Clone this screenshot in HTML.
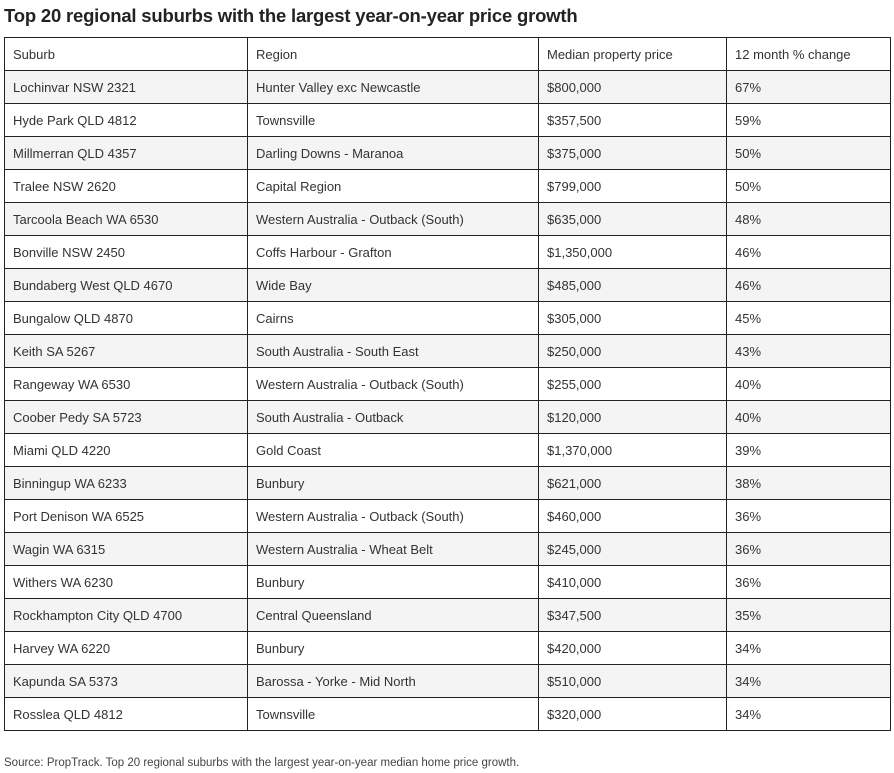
<!DOCTYPE html>
<html><head><meta charset="utf-8"><style>
body{margin:0;width:894px;height:773px;background:#fff;font-family:"Liberation Sans",sans-serif;color:#333;position:relative;overflow:hidden}
h1{position:absolute;left:4px;top:5px;margin:0;font-size:18.5px;font-weight:bold;color:#222;letter-spacing:-0.2px}
table{position:absolute;left:4px;top:37px;border-collapse:collapse;width:886px;table-layout:fixed}
td{border:1px solid #222;height:32px;padding:0 0 0 8px;font-size:13px;white-space:nowrap;overflow:hidden}
tr:nth-child(even) td{background:#f4f4f4}
.src{position:absolute;left:4px;top:757px;font-size:11.5px;color:#444}
</style></head><body>
<h1>Top 20 regional suburbs with the largest year-on-year price growth</h1>
<table>
<colgroup><col style="width:243px"><col style="width:291px"><col style="width:188px"><col style="width:164px"></colgroup>
<tbody id="tb">
<tr><td>Suburb</td><td>Region</td><td>Median property price</td><td>12 month % change</td></tr>
</tbody></table>
<div class="src">Source: PropTrack. Top 20 regional suburbs with the largest year-on-year median home price growth.</div>
<script>
const suburbs=["Lochinvar NSW 2321","Hyde Park QLD 4812","Millmerran QLD 4357","Tralee NSW 2620","Tarcoola Beach WA 6530","Bonville NSW 2450","Bundaberg West QLD 4670","Bungalow QLD 4870","Keith SA 5267","Rangeway WA 6530","Coober Pedy SA 5723","Miami QLD 4220","Binningup WA 6233","Port Denison WA 6525","Wagin WA 6315","Withers WA 6230","Rockhampton City QLD 4700","Harvey WA 6220","Kapunda SA 5373","Rosslea QLD 4812"];
const regions=["Hunter Valley exc Newcastle","Townsville","Darling Downs - Maranoa","Capital Region","Western Australia - Outback (South)","Coffs Harbour - Grafton","Wide Bay","Cairns","South Australia - South East","Western Australia - Outback (South)","South Australia - Outback","Gold Coast","Bunbury","Western Australia - Outback (South)","Western Australia - Wheat Belt","Bunbury","Central Queensland","Bunbury","Barossa - Yorke - Mid North","Townsville"];
const prices=["$800,000","$357,500","$375,000","$799,000","$635,000","$1,350,000","$485,000","$305,000","$250,000","$255,000","$120,000","$1,370,000","$621,000","$460,000","$245,000","$410,000","$347,500","$420,000","$510,000","$320,000"];
const changes=["67%","59%","50%","50%","48%","46%","46%","45%","43%","40%","40%","39%","38%","36%","36%","36%","35%","34%","34%","34%"];
const tb=document.getElementById('tb');
suburbs.forEach((s,i)=>{
  const tr=document.createElement('tr');
  
  
  [s,regions[i],prices[i],changes[i]].forEach(v=>{
    const td=document.createElement('td');
    
    
    td.textContent=v;tr.appendChild(td);
  });
  tb.appendChild(tr);
});
</script>
</body></html>
